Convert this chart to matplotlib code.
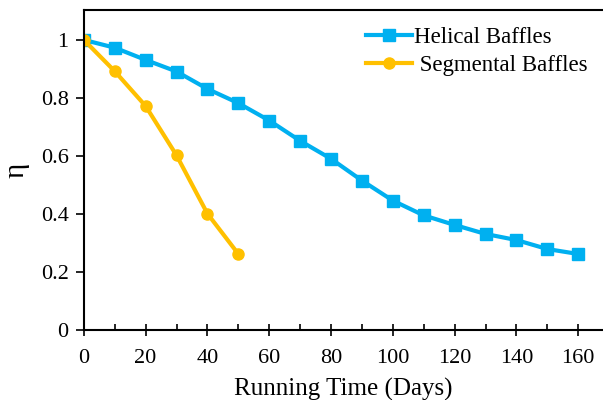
import matplotlib
matplotlib.use("Agg")
import matplotlib.pyplot as plt
from matplotlib.ticker import MultipleLocator, FuncFormatter

plt.rcParams['font.family'] = ['Liberation Serif', 'DejaVu Serif']

days_helical = [0, 10, 20, 30, 40, 50, 60, 70, 80, 90, 100, 110, 120, 130, 140, 150, 160]
eta_helical = [1.0, 0.973, 0.931, 0.891, 0.831, 0.782, 0.722, 0.652, 0.59, 0.515,
               0.446, 0.395, 0.362, 0.331, 0.31, 0.279, 0.262]
days_segmental = [0, 10, 20, 30, 40, 50]
eta_segmental = [1.0, 0.892, 0.772, 0.602, 0.401, 0.262]

fig = plt.figure(figsize=(6.03, 4.0), dpi=100)
ax = fig.add_axes([0.139, 0.175, 0.861, 0.8])

ax.plot(days_helical, eta_helical, color='#00B0F0', lw=3, marker='s', ms=9,
        label='Helical Baffles')
ax.plot(days_segmental, eta_segmental, color='#FFC000', lw=3, marker='o', ms=8,
        label=' Segmental Baffles')

ax.set_xlim(0, 168)
ax.set_ylim(0, 1.103)
ax.xaxis.set_major_locator(MultipleLocator(20))
ax.xaxis.set_minor_locator(MultipleLocator(10))
ax.yaxis.set_major_locator(MultipleLocator(0.2))
ax.yaxis.set_major_formatter(FuncFormatter(lambda v, p: f"{v:.1f}".rstrip('0').rstrip('.') if v else "0"))
ax.spines['right'].set_visible(False)
for s in ['left', 'bottom', 'top']:
    ax.spines[s].set_linewidth(1.5)
ax.tick_params(axis='x', which='major', direction='inout', length=9, width=1.2, labelsize=16, pad=9)
ax.tick_params(axis='x', which='minor', direction='in', length=4, width=1.2)
ax.tick_params(axis='y', direction='out', length=6, width=1.2, labelsize=16, pad=5)

ax.set_xlabel('Running Time (Days)', fontsize=18, labelpad=7)
ax.set_ylabel('η', fontsize=21, labelpad=8)

ax.legend(loc='upper right', frameon=False, fontsize=16.5, handlelength=2.0,
          handletextpad=0.1, labelspacing=0.3, bbox_to_anchor=(1.01, 1.01))

fig.savefig('out.png', dpi=100)
